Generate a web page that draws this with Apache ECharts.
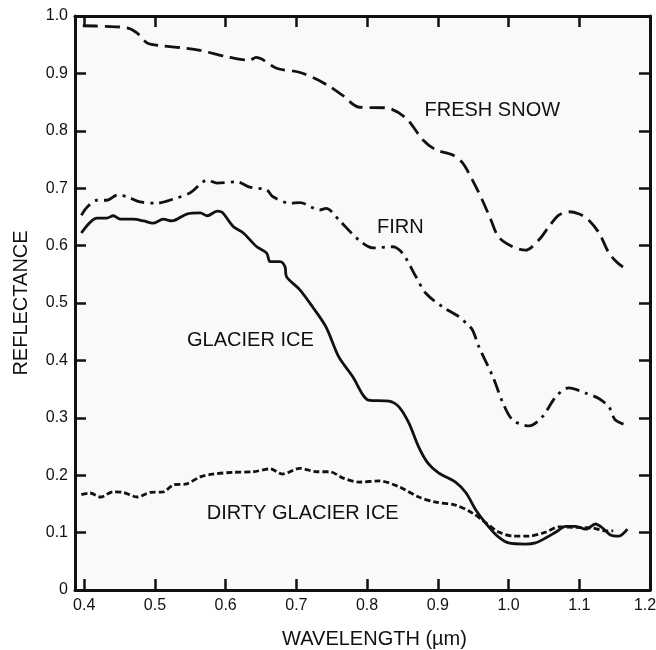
<!DOCTYPE html>
<html>
<head>
<meta charset="utf-8">
<script src="https://cdn.jsdelivr.net/npm/echarts@6/dist/echarts.min.js"></script>
<style>
  html, body { margin: 0; padding: 0; background: #ffffff; }
  #chart { width: 656px; height: 650px; }
</style>
</head>
<body>
<div id="chart"></div>
<script>
// spectral reflectance curves (wavelength in µm)
const snowX = [0.398, 0.43, 0.462, 0.475, 0.489, 0.51, 0.536, 0.564, 0.602, 0.634, 0.643, 0.651, 0.672, 0.704, 0.725, 0.746, 0.765, 0.789, 0.827, 0.855, 0.879, 0.897, 0.921, 0.935, 0.949, 0.963, 0.975, 0.986, 1.006, 1.024, 1.043, 1.057, 1.071, 1.085, 1.1, 1.113, 1.128, 1.142, 1.155, 1.169];
const snowY = [0.983, 0.982, 0.979, 0.97, 0.953, 0.948, 0.945, 0.94, 0.929, 0.923, 0.928, 0.925, 0.909, 0.902, 0.892, 0.878, 0.862, 0.841, 0.84, 0.822, 0.784, 0.767, 0.758, 0.744, 0.714, 0.679, 0.645, 0.615, 0.598, 0.592, 0.61, 0.633, 0.653, 0.659, 0.655, 0.645, 0.622, 0.587, 0.569, 0.557];

const firnX = [0.396, 0.405, 0.418, 0.432, 0.447, 0.461, 0.479, 0.503, 0.526, 0.55, 0.574, 0.588, 0.616, 0.634, 0.658, 0.667, 0.691, 0.705, 0.733, 0.742, 0.76, 0.788, 0.808, 0.836, 0.85, 0.869, 0.883, 0.907, 0.93, 0.94, 0.949, 0.958, 0.978, 0.992, 1.006, 1.029, 1.048, 1.067, 1.085, 1.109, 1.127, 1.142, 1.151, 1.168];
const firnY = [0.653, 0.668, 0.679, 0.679, 0.688, 0.685, 0.676, 0.674, 0.681, 0.692, 0.714, 0.709, 0.711, 0.702, 0.697, 0.685, 0.674, 0.675, 0.662, 0.665, 0.645, 0.61, 0.596, 0.598, 0.587, 0.546, 0.517, 0.493, 0.476, 0.465, 0.453, 0.424, 0.371, 0.326, 0.296, 0.286, 0.302, 0.337, 0.352, 0.343, 0.334, 0.319, 0.296, 0.287];

const iceX = [0.396, 0.418, 0.432, 0.441, 0.451, 0.469, 0.484, 0.497, 0.512, 0.524, 0.545, 0.564, 0.574, 0.588, 0.595, 0.611, 0.625, 0.644, 0.658, 0.663, 0.677, 0.684, 0.686, 0.705, 0.723, 0.742, 0.76, 0.78, 0.794, 0.802, 0.831, 0.845, 0.859, 0.873, 0.886, 0.901, 0.925, 0.94, 0.954, 0.972, 0.986, 1.0, 1.024, 1.038, 1.053, 1.067, 1.081, 1.095, 1.109, 1.123, 1.133, 1.144, 1.156, 1.168];
const iceY = [0.622, 0.648, 0.648, 0.652, 0.646, 0.646, 0.643, 0.639, 0.646, 0.643, 0.655, 0.657, 0.652, 0.66, 0.658, 0.633, 0.622, 0.598, 0.587, 0.572, 0.572, 0.563, 0.546, 0.523, 0.493, 0.458, 0.406, 0.371, 0.34, 0.331, 0.329, 0.319, 0.291, 0.249, 0.221, 0.204, 0.188, 0.169, 0.139, 0.11, 0.092, 0.082, 0.08, 0.082, 0.091, 0.101, 0.111, 0.111, 0.106, 0.115, 0.108, 0.096, 0.094, 0.106];

const dirtyX = [0.396, 0.408, 0.423, 0.441, 0.455, 0.475, 0.493, 0.512, 0.526, 0.545, 0.564, 0.582, 0.611, 0.639, 0.663, 0.68, 0.705, 0.729, 0.747, 0.766, 0.788, 0.817, 0.845, 0.873, 0.897, 0.925, 0.949, 0.968, 0.986, 1.006, 1.029, 1.053, 1.071, 1.095, 1.119, 1.137, 1.148];
const dirtyY = [0.166, 0.169, 0.162, 0.171, 0.17, 0.162, 0.17, 0.171, 0.183, 0.185, 0.197, 0.202, 0.205, 0.206, 0.211, 0.202, 0.212, 0.206, 0.206, 0.195, 0.188, 0.19, 0.18, 0.162, 0.153, 0.148, 0.134, 0.117, 0.101, 0.094, 0.094, 0.101, 0.11, 0.109, 0.108, 0.103, 0.103];

// where each curve name sits (data coords of the text centre)
const labelNames = ['FRESH SNOW', 'FIRN', 'GLACIER ICE', 'DIRTY GLACIER ICE'];
const labelPos = [[0.977, 0.836], [0.847, 0.631], [0.635, 0.434], [0.709, 0.134]];

const font = 'Liberation Sans, Arial, sans-serif';

function zip(xs, ys) {
  return xs.map((x, i) => [x, ys[i]]);
}

function makeSeries(name, xs, ys, dash, idx) {
  return {
    name: name,
    type: 'line',
    data: zip(xs, ys),
    smooth: 0.3,
    showSymbol: false,
    lineStyle: { color: '#111', width: 2.8, type: dash },
    markPoint: {
      symbol: 'circle',
      symbolSize: 0,
      label: {
        show: true,
        position: 'inside',
        formatter: '{b}',
        color: '#111',
        fontSize: 20,
        fontFamily: font
      },
      data: [{ name: labelNames[idx], coord: labelPos[idx] }]
    }
  };
}

let chart = echarts.init(document.getElementById('chart'));
let axisLine = { show: true, onZero: false, lineStyle: { color: '#111', width: 3 } };
let tick = { show: true, inside: true, length: 11, lineStyle: { color: '#111', width: 2.5 } };

let option = {
  animation: false,
  backgroundColor: '#ffffff',
  grid: {
    left: 75, right: 6, top: 16, bottom: 60,
    outerBoundsMode: 'none',
    containLabel: false,
    show: true, backgroundColor: '#f9f9f9', borderWidth: 0
  },
  xAxis: [{
    type: 'value',
    min: 0.387,
    max: 1.2,
    splitNumber: 8,
    name: 'WAVELENGTH (µm)',
    nameLocation: 'middle',
    nameGap: 39,
    nameTextStyle: { color: '#111', fontSize: 20, fontFamily: font, padding: [0, 0, 0, 24] },
    axisLine: axisLine,
    axisTick: tick,
    splitLine: { show: false },
    axisLabel: {
      color: '#111', fontSize: 16, fontFamily: font, margin: 8,
      showMinLabel: false,
      formatter: v => {
        if (Math.abs(v * 10 - Math.round(v * 10)) > 1e-6) return '';
        return v >= 1.2 - 1e-9 ? '{r|' + v.toFixed(1) + '}' : v.toFixed(1);
      },
      rich: { r: { color: '#111', fontSize: 16, fontFamily: font, padding: [0, 10, 0, 0] } }
    }
  }, {
    type: 'value',
    position: 'top',
    min: 0.387,
    max: 1.2,
    splitNumber: 8,
    axisLine: axisLine,
    axisTick: tick,
    splitLine: { show: false },
    axisLabel: { show: false }
  }],
  yAxis: [{
    type: 'value',
    min: 0,
    max: 1,
    interval: 0.1,
    name: 'REFLECTANCE',
    nameLocation: 'middle',
    nameGap: 44,
    nameTextStyle: { color: '#111', fontSize: 20, fontFamily: font },
    axisLine: axisLine,
    axisTick: tick,
    splitLine: { show: false },
    axisLabel: {
      color: '#111', fontSize: 16, fontFamily: font, margin: 7,
      formatter: v => v === 0 ? '0' : v.toFixed(1)
    }
  }, {
    type: 'value',
    position: 'right',
    min: 0,
    max: 1,
    interval: 0.1,
    axisLine: axisLine,
    axisTick: tick,
    splitLine: { show: false },
    axisLabel: { show: false }
  }],
  series: [
    makeSeries('Fresh snow', snowX, snowY, [15, 7], 0),
    makeSeries('Firn', firnX, firnY, [14, 6, 3, 6], 1),
    makeSeries('Glacier ice', iceX, iceY, 'solid', 2),
    makeSeries('Dirty glacier ice', dirtyX, dirtyY, [6, 3], 3)
  ]
};

chart.setOption(option);
</script>
</body>
</html>
